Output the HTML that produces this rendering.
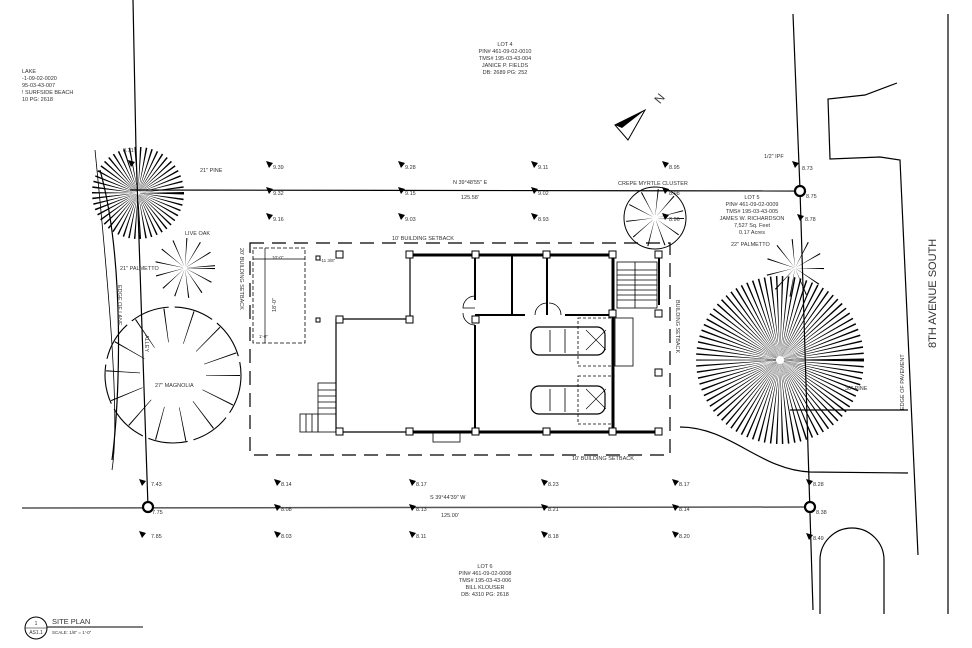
<!DOCTYPE html>
<html><head><meta charset="utf-8"><style>
body{margin:0;background:#fff}
svg{display:block}
text{font-family:"Liberation Sans",sans-serif;fill:#333}
</style></head><body>
<svg width="972" height="648" viewBox="0 0 972 648" xmlns="http://www.w3.org/2000/svg">
<defs><path id="t" d="M0,0 l7,2 l-4,5z"/></defs>
<rect width="972" height="648" fill="#fff"/>
<g stroke="#000" fill="none" stroke-width="1.2">
<polyline points="133,0 136,150 148,507"/>
<line x1="130" y1="190" x2="800" y2="191"/>
<line x1="22" y1="508" x2="812" y2="507" stroke="#555" stroke-width="1.5"/>
<polyline points="793,14 800,190 813,610"/>
<line x1="948" y1="14" x2="948" y2="614"/>
<polyline points="897,83 865,95 828,99 830,159 880,157 900,160 918,555"/>
<line x1="790" y1="410" x2="908" y2="410"/>
<path d="M680,427 C730,427 760,470 810,472 L908,473"/>
<path d="M820,614 L820,560 A32,32 0 0 1 884,560 L884,614"/>
<path d="M100,170 C125,260 120,400 112,460"/>
<path d="M95,150 C110,300 120,420 112,470" stroke-width="0.8"/>
<rect x="250" y="243" width="420" height="212" stroke-dasharray="14,8"/>
<rect x="253" y="248" width="52" height="95" stroke-dasharray="4,2" stroke-width="0.8"/>
<line x1="253" y1="259" x2="305" y2="259" stroke-width="0.7"/>
<line x1="265" y1="248" x2="265" y2="343" stroke-width="0.7"/>
<g stroke-width="2">
<polyline points="410,319 410,255 613,255 613,432 336,432 336,319 410,319" stroke-width="1.2"/>
<line x1="410" y1="255" x2="613" y2="255" stroke-width="3"/>
<line x1="475" y1="255" x2="475" y2="300"/>
<line x1="475" y1="325" x2="475" y2="432"/>
<line x1="512" y1="255" x2="512" y2="315"/>
<line x1="547" y1="255" x2="547" y2="315"/>
<line x1="475" y1="315" x2="525" y2="315"/>
<line x1="565" y1="315" x2="613" y2="315"/>
<line x1="410" y1="432" x2="660" y2="432" stroke-width="3"/>
<line x1="613" y1="255" x2="613" y2="432" stroke-width="3"/>
<line x1="659" y1="255" x2="659" y2="305"/>
</g>
<path d="M475,296 A12,12 0 0 0 463,308 L475,308" stroke-width="0.8"/>
<path d="M475,325 A12,12 0 0 1 463,313" stroke-width="0.8"/>
<path d="M535,315 A12,12 0 0 1 547,303 M549,303 A12,12 0 0 1 561,315" stroke-width="0.8"/>
<rect x="433" y="432" width="27" height="10" stroke-width="0.8"/>
<rect x="615" y="318" width="18" height="48" stroke-width="0.8"/>
<rect x="578" y="318" width="35" height="48" stroke-dasharray="3,2" stroke-width="0.8"/>
<rect x="578" y="376" width="35" height="48" stroke-dasharray="3,2" stroke-width="0.8"/>
<path d="M586,330 L606,350 M606,330 L586,350 M586,389 L606,409 M606,389 L586,409" stroke-width="0.6"/>
<rect x="531" y="327" width="74" height="28" rx="8"/>
<rect x="531" y="386" width="74" height="28" rx="8"/>
<path d="M550,330 L550,352 M565,329 L565,353 M550,389 L550,411 M565,388 L565,412" stroke-width="0.8"/>
<g stroke-width="0.8">
<rect x="617" y="262" width="40" height="46"/>
<path d="M617,270h40M617,275h40M617,280h40M617,285h40M617,290h40M617,295h40M617,300h40M635,262v46"/>
<rect x="318" y="383" width="18" height="49"/>
<path d="M318,390h18M318,396h18M318,402h18M318,408h18M318,414h18"/>
<rect x="300" y="414" width="18" height="18"/>
<path d="M306,414v18M312,414v18"/>
</g>
</g>
<g fill="#fff" stroke="#000" stroke-width="1">
<rect x="406" y="251" width="7" height="7"/><rect x="472" y="251" width="7" height="7"/><rect x="543" y="251" width="7" height="7"/><rect x="609" y="251" width="7" height="7"/><rect x="655" y="251" width="7" height="7"/>
<rect x="336" y="251" width="7" height="7"/><rect x="336" y="316" width="7" height="7"/><rect x="406" y="316" width="7" height="7"/><rect x="472" y="316" width="7" height="7"/><rect x="609" y="310" width="7" height="7"/><rect x="655" y="310" width="7" height="7"/>
<rect x="336" y="428" width="7" height="7"/><rect x="406" y="428" width="7" height="7"/><rect x="472" y="428" width="7" height="7"/><rect x="543" y="428" width="7" height="7"/><rect x="609" y="428" width="7" height="7"/><rect x="655" y="428" width="7" height="7"/><rect x="655" y="369" width="7" height="7"/>
<rect x="316" y="256" width="4" height="4"/><rect x="316" y="318" width="4" height="4"/>
</g>
<g fill="none" stroke="#000">
<circle cx="138" cy="193" r="24" stroke-width="44" stroke-dasharray="0.8,2.2"/>
<circle cx="780" cy="360" r="44" stroke-width="80" stroke-dasharray="0.8,2.4"/>
<circle cx="185" cy="268" r="16" stroke-width="28" stroke-dasharray="0.6,7"/>
<circle cx="795" cy="268" r="15" stroke-width="28" stroke-dasharray="0.6,8"/>
<circle cx="655" cy="218" r="31" stroke-width="1"/>
<circle cx="655" cy="218" r="16" stroke-width="26" stroke-dasharray="0.6,9"/>
<circle cx="173" cy="375" r="68" stroke-width="1.1" stroke-dasharray="40,6"/>
<circle cx="173" cy="375" r="50" stroke-width="34" stroke-dasharray="0.8,22"/>
</g>
<circle cx="173" cy="375" r="28" fill="#fff"/>
<g fill="#fff" stroke="#000" stroke-width="2.2">
<circle cx="800" cy="191" r="5"/><circle cx="148" cy="507" r="5"/><circle cx="810" cy="507" r="5"/>
</g>
<polygon points="615,125 645,110 628,140" fill="#fff" stroke="#000"/>
<polygon points="615,125 645,110 622,128" fill="#000"/>
<text x="655" y="102" font-size="12" transform="rotate(-50 660 98)" fill="#000">N</text>
<g fill="#000">
<use href="#t" x="266" y="161"/><use href="#t" x="398" y="161"/><use href="#t" x="531" y="161"/><use href="#t" x="662" y="161"/>
<use href="#t" x="266" y="187"/><use href="#t" x="398" y="187"/><use href="#t" x="531" y="187"/><use href="#t" x="662" y="187"/>
<use href="#t" x="266" y="213"/><use href="#t" x="398" y="213"/><use href="#t" x="531" y="213"/><use href="#t" x="662" y="213"/>
<use href="#t" x="792" y="161"/><use href="#t" x="797" y="214"/><use href="#t" x="128" y="160"/>
<use href="#t" x="139" y="479"/><use href="#t" x="274" y="479"/><use href="#t" x="409" y="479"/><use href="#t" x="541" y="479"/><use href="#t" x="672" y="479"/><use href="#t" x="806" y="479"/>
<use href="#t" x="274" y="504"/><use href="#t" x="409" y="504"/><use href="#t" x="541" y="504"/><use href="#t" x="672" y="504"/>
<use href="#t" x="139" y="531"/><use href="#t" x="274" y="531"/><use href="#t" x="409" y="531"/><use href="#t" x="541" y="531"/><use href="#t" x="672" y="531"/><use href="#t" x="806" y="533"/>
</g>
<g font-size="5.5">
<text x="273" y="169">9.39</text><text x="405" y="169">9.28</text><text x="538" y="169">9.11</text><text x="669" y="169">8.95</text>
<text x="273" y="195">9.32</text><text x="405" y="195">9.15</text><text x="538" y="195">9.02</text><text x="669" y="195">8.98</text>
<text x="273" y="221">9.16</text><text x="405" y="221">9.03</text><text x="538" y="221">8.93</text><text x="669" y="221">8.96</text>
<text x="802" y="170">8.73</text><text x="806" y="198">8.75</text><text x="805" y="221">8.78</text><text x="123" y="152">8.71</text>
<text x="151" y="486">7.43</text><text x="281" y="486">8.14</text><text x="416" y="486">8.17</text><text x="548" y="486">8.23</text><text x="679" y="486">8.17</text><text x="813" y="486">8.28</text>
<text x="152" y="514">7.75</text><text x="281" y="511">8.08</text><text x="416" y="511">8.13</text><text x="548" y="511">8.21</text><text x="679" y="511">8.14</text><text x="816" y="514">8.38</text>
<text x="151" y="538">7.85</text><text x="281" y="538">8.03</text><text x="416" y="538">8.11</text><text x="548" y="538">8.18</text><text x="679" y="538">8.20</text><text x="813" y="540">8.49</text>
<text x="453" y="184">N 39°48'55" E</text><text x="461" y="199">125.58'</text>
<text x="430" y="499">S 39°44'39" W</text><text x="441" y="517">125.00'</text>
<text x="200" y="172">21" PINE</text><text x="618" y="185">CREPE MYRTLE CLUSTER</text>
<text x="764" y="158">1/2" IPF</text><text x="731" y="246">22" PALMETTO</text><text x="845" y="390">30" PINE</text>
<text x="120" y="270">21" PALMETTO</text><text x="185" y="235">LIVE OAK</text><text x="155" y="387">27" MAGNOLIA</text>
<text x="392" y="240">10' BUILDING SETBACK</text><text x="572" y="460">10' BUILDING SETBACK</text>
<text x="320" y="262" font-size="4.5">-11 3/8"</text><text x="272" y="259" font-size="4.5">10'-0"</text>
<text x="259" y="338" font-size="4.5">1'-0"</text>
<text x="22" y="73">LAKE</text><text x="22" y="80">-1-09-02-0020</text><text x="22" y="87">95-03-43-007</text><text x="22" y="94">! SURFSIDE BEACH</text><text x="22" y="101">10 PG: 2618</text>
</g>
<g font-size="5.5" text-anchor="middle">
<text x="505" y="46">LOT 4</text><text x="505" y="53">PIN# 461-09-02-0010</text><text x="505" y="60">TMS# 195-03-43-004</text><text x="505" y="67">JANICE P. FIELDS</text><text x="505" y="74">DB: 2689 PG: 252</text>
<text x="752" y="199">LOT 5</text><text x="752" y="206">PIN# 461-09-02-0009</text><text x="752" y="213">TMS# 195-03-43-005</text><text x="752" y="220">JAMES W. RICHARDSON</text><text x="752" y="227">7,527 Sq. Feet</text><text x="752" y="234">0.17 Acres</text>
<text x="485" y="568">LOT 6</text><text x="485" y="575">PIN# 461-09-02-0008</text><text x="485" y="582">TMS# 195-03-43-006</text><text x="485" y="589">BILL KLOUSER</text><text x="485" y="596">DB: 4310 PG: 2618</text>
</g>
<g font-size="5.5">
<text transform="translate(240,248) rotate(90)">20' BUILDING SETBACK</text>
<text transform="translate(676,300) rotate(90)">BUILDING SETBACK</text>
<text transform="translate(118,285) rotate(90)">EDGE OF LANE</text>
<text transform="translate(145,335) rotate(90)">ALLEY</text>
<text transform="translate(904,410) rotate(-90)">EDGE OF PAVEMENT</text>
<text transform="translate(276,312) rotate(-90)">18'-0"</text>
</g>
<text transform="translate(936,348) rotate(-90)" font-size="11" fill="#111">8TH AVENUE SOUTH</text>
<circle cx="36" cy="628" r="11" fill="none" stroke="#000"/>
<line x1="25" y1="628" x2="47" y2="628" stroke="#000" stroke-width="0.6"/>
<text x="36" y="625" font-size="5" text-anchor="middle">1</text>
<text x="36" y="634" font-size="5" text-anchor="middle">AS1.1</text>
<line x1="47" y1="627" x2="143" y2="627" stroke="#000"/>
<text x="52" y="624" font-size="7.5" fill="#111">SITE PLAN</text>
<text x="52" y="634" font-size="4.5">SCALE: 1/8" = 1'-0"</text>
</svg>
</body></html>
